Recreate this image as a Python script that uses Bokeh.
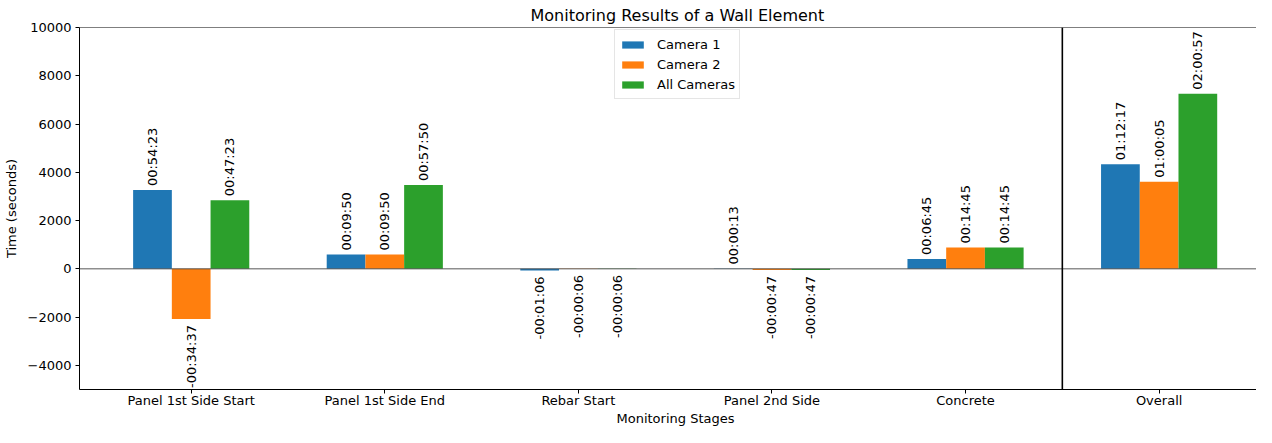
import numpy as np
from bokeh.plotting import figure
from bokeh.models import ColumnDataSource, FixedTicker, Span, Title
from bokeh.embed import file_html
from bokeh.resources import INLINE
from bokeh.core.properties import value

stages = ["Panel 1st Side Start", "Panel 1st Side End", "Rebar Start",
          "Panel 2nd Side", "Concrete", "Overall"]
camera1 = [3263, 590, -66, 13, 405, 4337]
camera2 = [-2077, 590, -6, -47, 885, 3605]
all_cameras = [2843, 3470, -6, -47, 885, 7257]
series_names = ["Camera 1", "Camera 2", "All Cameras"]
colors = ["#1f77b4", "#ff7f0e", "#2ca02c"]
y_ticks = [-4000, -2000, 0, 2000, 4000, 6000, 8000, 10000]
y_lo, y_hi = -5000, 10000

FONT = "DejaVu Sans"


def fmt(s):
    sign = "-" if s < 0 else ""
    a = abs(int(s))
    return f"{sign}{a // 3600:02d}:{(a % 3600) // 60:02d}:{a % 60:02d}"


W, H = 1256, 427
p = figure(width=W, height=H, x_range=(-0.577, 5.503), y_range=(y_lo, y_hi),
           output_backend="svg", toolbar_location=None,
           min_border_left=74, min_border_right=0, min_border_top=0, min_border_bottom=30,
           title="Monitoring Results of a Wall Element")

bar_w = 0.2
for i, (name, vals, col) in enumerate(zip(series_names, [camera1, camera2, all_cameras], colors)):
    xs = [j + (i - 1) * bar_w for j in range(len(stages))]
    src = ColumnDataSource(dict(x=xs, top=vals))
    p.vbar(x="x", top="top", bottom=0, width=bar_w, fill_color=col, line_color=None,
           source=src, legend_label=name)
    pos = [k for k, v in enumerate(vals) if v >= 0]
    neg = [k for k, v in enumerate(vals) if v < 0]
    if pos:
        s_pos = ColumnDataSource(dict(x=[xs[k] for k in pos], y=[vals[k] for k in pos],
                                      t=[fmt(vals[k]) for k in pos]))
        p.text(x="x", y="y", text="t", source=s_pos, angle=np.pi / 2, text_align="left",
               text_baseline="middle", y_offset=-4, text_font=value(FONT),
               text_font_size="13px", text_color="black")
    if neg:
        s_neg = ColumnDataSource(dict(x=[xs[k] for k in neg], y=[vals[k] for k in neg],
                                      t=[fmt(vals[k]) for k in neg]))
        p.text(x="x", y="y", text="t", source=s_neg, angle=np.pi / 2, text_align="right",
               text_baseline="middle", y_offset=6, text_font=value(FONT),
               text_font_size="13px", text_color="black")

p.add_layout(Span(location=0, dimension="width", line_color="#444444", line_width=0.9))
p.add_layout(Span(location=4.5, dimension="height", line_color="black", line_width=1.6))
# top spine (the right spine lies outside the reference crop)
p.add_layout(Span(location=y_hi, dimension="width", line_color="black", line_width=1.2))

p.xgrid.visible = False
p.ygrid.visible = False
p.outline_line_color = None

p.xaxis.ticker = FixedTicker(ticks=list(range(len(stages))))
p.xaxis.major_label_overrides = {i: s for i, s in enumerate(stages)}
p.yaxis.ticker = FixedTicker(ticks=y_ticks)
p.yaxis.axis_label = "Time (seconds)"
for ax in [p.xaxis[0], p.yaxis[0]]:
    ax.minor_tick_line_color = None
    ax.major_tick_in = 0
    ax.major_tick_out = 4
    ax.major_tick_line_color = "black"
    ax.axis_line_color = "black"
    ax.major_label_text_font = FONT
    ax.major_label_text_font_size = "13px"
    ax.major_label_text_color = "black"
    ax.axis_label_text_font = FONT
    ax.axis_label_text_font_size = "13px"
    ax.axis_label_text_font_style = "normal"
    ax.axis_label_text_color = "black"
p.xaxis.major_label_standoff = -1
p.yaxis.major_label_standoff = 4
p.yaxis.axis_label_standoff = 6

# x-axis title as a compact title panel under the tick labels
p.add_layout(Title(text="Monitoring Stages", align="left", offset=537, standoff=0,
                   vertical_align="top", text_font=FONT, text_font_size="13px",
                   text_font_style="normal", text_color="black"), "below")

p.title.text_font = FONT
p.title.text_font_size = "16px"
p.title.text_font_style = "normal"
p.title.align = "left"
p.title.offset = 451
p.title.text_color = "black"
p.title.standoff = 6

lg = p.legend[0]
lg.location = (535, 290)
lg.label_text_font = FONT
lg.label_text_font_size = "13px"
lg.label_text_color = "black"
lg.glyph_width = 27
lg.glyph_height = 9
lg.label_height = 20
lg.label_standoff = 11
lg.spacing = 0
lg.padding = 4
lg.border_line_color = "#cccccc"
lg.background_fill_alpha = 0.8

open("out.html", "w").write(file_html(p, INLINE))
